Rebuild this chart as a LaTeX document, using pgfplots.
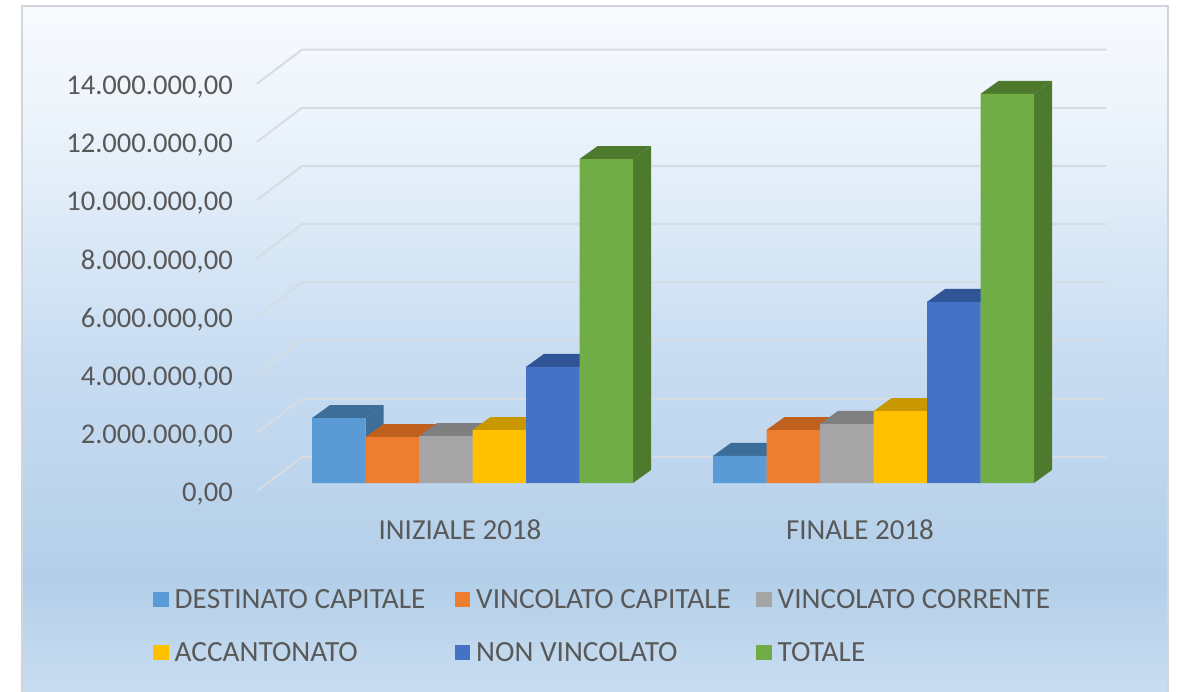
\documentclass[border=0pt]{standalone}
\usepackage{pgfplots}
\pgfplotsset{compat=1.18}
\usepackage{fontspec}
\setmainfont{Carlito}
\definecolor{txt}{HTML}{595959}
\definecolor{gridc}{HTML}{D6DCE4}
\definecolor{frm}{HTML}{D0D5DA}
\definecolor{bA}{HTML}{5B9BD5}\definecolor{bAd}{HTML}{3C6E99}
\definecolor{bB}{HTML}{ED7D31}\definecolor{bBd}{HTML}{C0601F}
\definecolor{bC}{HTML}{A5A5A5}\definecolor{bCd}{HTML}{7F7F7F}
\definecolor{bD}{HTML}{FFC000}\definecolor{bDd}{HTML}{C99700}
\definecolor{bE}{HTML}{4472C4}\definecolor{bEd}{HTML}{2F5597}
\definecolor{bF}{HTML}{70AD47}\definecolor{bFd}{HTML}{4E7A2E}
\definecolor{bgA}{HTML}{C9DDF1}
\definecolor{bgB}{HTML}{B3CFE9}
\definecolor{bgC}{HTML}{C9DDF2}
\definecolor{bgD}{HTML}{ECF4FB}
\definecolor{bgE}{HTML}{F8FAFD}
\pgfdeclareverticalshading{bgsh}{100bp}{
  color(0bp)=(bgA);color(25bp)=(bgA);color(33.1bp)=(bgB);color(49.9bp)=(bgC);
  color(66.7bp)=(bgD);color(75bp)=(bgE);color(100bp)=(bgE)}
\newcommand\face[2]{\addplot[fill=#1,draw=none,forget plot] coordinates {#2} --cycle;}
\newcommand\gline[1]{\addplot[gridc,line width=2pt,forget plot] coordinates {#1};}
\newcommand\lent[1]{\addlegendentry{\makebox[278pt][l]{#1}}}
\pgfplotsset{frontbar/.style={ybar,bar width=53.5pt,bar shift=0pt,draw=none,fill=#1,
  legend image code/.code={\fill[#1] (0pt,-7.5pt) rectangle (15.5pt,7.5pt);}}}
\begin{document}
\begin{tikzpicture}[x=1pt,y=1pt]
\useasboundingbox (0,0) rectangle (1178,691);
\fill[white] (0,0) rectangle (1178,691);
\shade[shading=bgsh] (22,0) rectangle (1168,685);
\draw[frm,line width=2.5pt] (22,-3) -- (22,685) -- (1168,685) -- (1168,-3);
\begin{axis}[
  at={(257pt,208pt)},anchor=south west,
  scale only axis,width=849pt,height=407.4pt,
  xmin=257,xmax=1106,ymin=0,ymax=14000000,
  clip=false,
  axis line style={draw=none},
  tick style={draw=none},
  major tick length=0pt,
  scaled y ticks=false,
  ytick={0,2000000,4000000,6000000,8000000,10000000,12000000,14000000},
  xtick={460,860},
  xticklabels={INIZIALE 2018,FINALE 2018},
  tick label style={font=\fontsize{29}{30}\selectfont,text=txt,inner sep=0pt},
  yticklabel style={font=\fontsize{28.6}{30}\selectfont,anchor=east,xshift=-24pt,yshift=-11pt,
    /pgf/number format/.cd,fixed,fixed zerofill,precision=2,use comma,1000 sep={.},assume math mode=true},
  xticklabel style={anchor=north,yshift=-36pt},
  legend columns=3,
  legend cell align=left,
  legend style={at={(-0.1225,-0.255)},anchor=north west,draw=none,fill=none,
    font=\fontsize{29.3}{30}\selectfont,text=txt,inner sep=0pt,
    /tikz/row sep=29pt,
    /tikz/every even column/.append style={column sep=0pt},
    /tikz/every odd column/.append style={column sep=4pt}},
]
% gridlines
\gline{(257,-275000)(302,893000)(1106,893000)}
\gline{(257,1725000)(302,2893000)(1106,2893000)}
\gline{(257,3725000)(302,4893000)(1106,4893000)}
\gline{(257,5725000)(302,6893000)(1106,6893000)}
\gline{(257,7725000)(302,8893000)(1106,8893000)}
\gline{(257,9725000)(302,10893000)(1106,10893000)}
\gline{(257,11725000)(302,12893000)(1106,12893000)}
\gline{(257,13725000)(302,14893000)(1106,14893000)}
% DESTINATO CAPITALE
\face{bAd}{(365.5,0)(383.5,447000)(383.5,2677000)(365.5,2230000)}
\face{bAd}{(312,2230000)(330,2677000)(383.5,2677000)(365.5,2230000)}
\face{bAd}{(766.5,0)(784.5,447000)(784.5,1377000)(766.5,930000)}
\face{bAd}{(713,930000)(731,1377000)(784.5,1377000)(766.5,930000)}
\addplot[frontbar=bA] coordinates {(338.75,2230000)(739.75,930000)};
\lent{DESTINATO CAPITALE}
% VINCOLATO CAPITALE
\face{bBd}{(419,0)(437,447000)(437,2027000)(419,1580000)}
\face{bBd}{(365.5,1580000)(383.5,2027000)(437,2027000)(419,1580000)}
\face{bBd}{(820,0)(838,447000)(838,2267000)(820,1820000)}
\face{bBd}{(766.5,1820000)(784.5,2267000)(838,2267000)(820,1820000)}
\addplot[frontbar=bB] coordinates {(392.25,1580000)(793.25,1820000)};
\lent{VINCOLATO CAPITALE}
% VINCOLATO CORRENTE
\face{bCd}{(472.5,0)(490.5,447000)(490.5,2057000)(472.5,1610000)}
\face{bCd}{(419,1610000)(437,2057000)(490.5,2057000)(472.5,1610000)}
\face{bCd}{(873.5,0)(891.5,447000)(891.5,2477000)(873.5,2030000)}
\face{bCd}{(820,2030000)(838,2477000)(891.5,2477000)(873.5,2030000)}
\addplot[frontbar=bC] coordinates {(445.75,1610000)(846.75,2030000)};
\lent{VINCOLATO CORRENTE}
% ACCANTONATO
\face{bDd}{(526,0)(544,447000)(544,2267000)(526,1820000)}
\face{bDd}{(472.5,1820000)(490.5,2267000)(544,2267000)(526,1820000)}
\face{bDd}{(927,0)(945,447000)(945,2917000)(927,2470000)}
\face{bDd}{(873.5,2470000)(891.5,2917000)(945,2917000)(927,2470000)}
\addplot[frontbar=bD] coordinates {(499.25,1820000)(900.25,2470000)};
\lent{ACCANTONATO}
% NON VINCOLATO
\face{bEd}{(579.5,0)(597.5,447000)(597.5,4437000)(579.5,3990000)}
\face{bEd}{(526,3990000)(544,4437000)(597.5,4437000)(579.5,3990000)}
\face{bEd}{(980.5,0)(998.5,447000)(998.5,6667000)(980.5,6220000)}
\face{bEd}{(927,6220000)(945,6667000)(998.5,6667000)(980.5,6220000)}
\addplot[frontbar=bE] coordinates {(552.75,3990000)(953.75,6220000)};
\lent{NON VINCOLATO}
% TOTALE
\face{bFd}{(633,0)(651,447000)(651,11577000)(633,11130000)}
\face{bFd}{(579.5,11130000)(597.5,11577000)(651,11577000)(633,11130000)}
\face{bFd}{(1034,0)(1052,447000)(1052,13817000)(1034,13370000)}
\face{bFd}{(980.5,13370000)(998.5,13817000)(1052,13817000)(1034,13370000)}
\addplot[frontbar=bF] coordinates {(606.25,11130000)(1007.25,13370000)};
\lent{TOTALE}
\end{axis}
\end{tikzpicture}
\end{document}
